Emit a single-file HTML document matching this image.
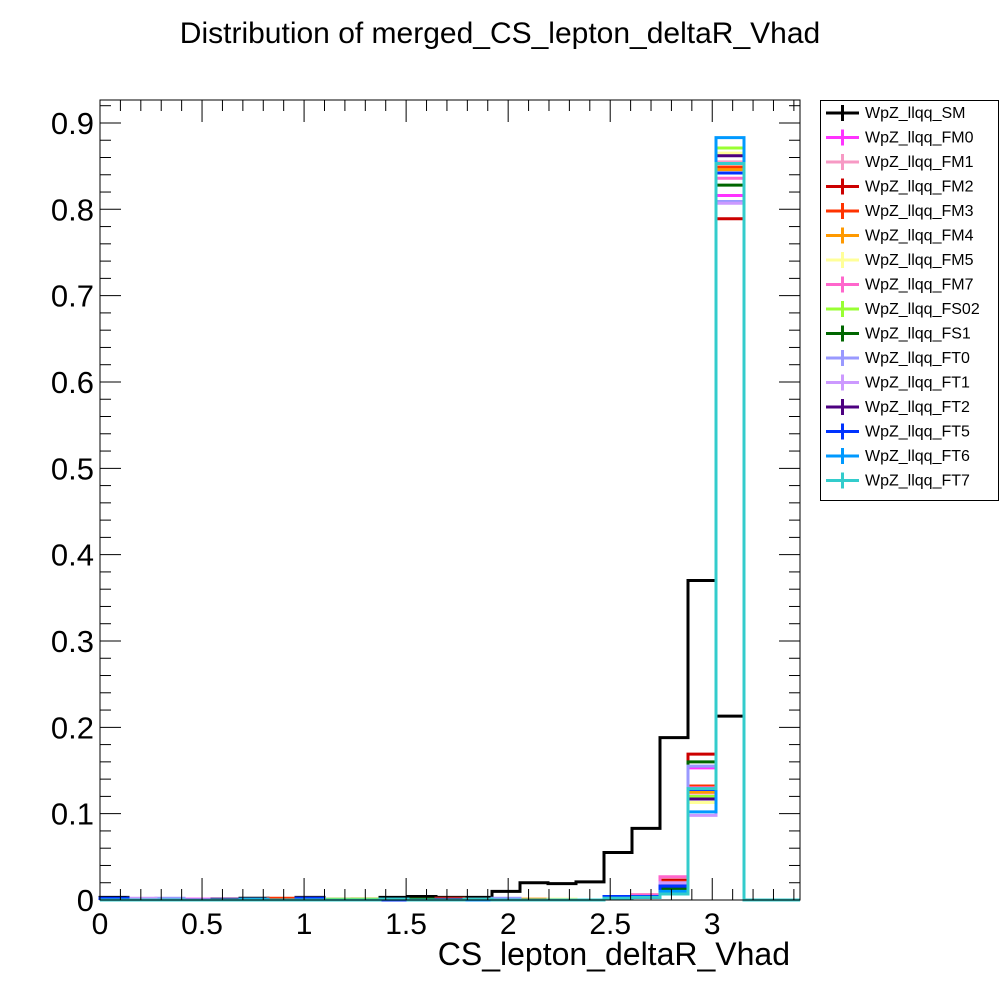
<!DOCTYPE html>
<html><head><meta charset="utf-8"><style>
body{margin:0;background:#fff;width:1000px;height:1000px;overflow:hidden;font-family:"Liberation Sans",sans-serif}
</style></head><body>
<svg id="c" width="1000" height="1000" xmlns="http://www.w3.org/2000/svg">
<rect width="1000" height="1000" fill="#fff"/>
<text x="500" y="43" font-size="30" text-anchor="middle" font-family="Liberation Sans, sans-serif">Distribution of merged_CS_lepton_deltaR_Vhad</text>
<g id="plot"></g>
<text x="790" y="965" font-size="32" text-anchor="end" font-family="Liberation Sans, sans-serif">CS_lepton_deltaR_Vhad</text>
</svg>
<script>
const xMin=0, xMax=3.43, nBins=25, yMin=0, yMax=0.9266;
const xTicks=[0,0.5,1,1.5,2,2.5,3];
const xTickLabels=["0","0.5","1","1.5","2","2.5","3"];
const yTicks=[0,0.1,0.2,0.3,0.4,0.5,0.6,0.7,0.8,0.9];
const yTickLabels=["0","0.1","0.2","0.3","0.4","0.5","0.6","0.7","0.8","0.9"];
const seriesNames=["WpZ_llqq_SM","WpZ_llqq_FM0","WpZ_llqq_FM1","WpZ_llqq_FM2","WpZ_llqq_FM3","WpZ_llqq_FM4","WpZ_llqq_FM5","WpZ_llqq_FM7","WpZ_llqq_FS02","WpZ_llqq_FS1","WpZ_llqq_FT0","WpZ_llqq_FT1","WpZ_llqq_FT2","WpZ_llqq_FT5","WpZ_llqq_FT6","WpZ_llqq_FT7"];
const seriesColors=["#000000","#ff33ff","#f799c4","#cc0000","#ff3300","#ff9900","#ffff99","#ff66cc","#99ff33","#006600","#9999ff","#cc99ff","#4d0080","#0033ff","#0099ff","#33cccc"];
const smValues=[0.003,0,0,0,0,0.002,0,0.003,0,0,0.003,0.004,0.003,0.003,0.010,0.020,0.019,0.021,0.055,0.083,0.188,0.370,0.213,0,0];
const bin19=[0.083,0.004,0.005,0.006,0.004,0.003,0.003,0.006,0.003,0.004,0.004,0.003,0.003,0.004,0.003,0.003];
const bin20=[0.188,0.020,0.022,0.023,0.021,0.018,0.015,0.027,0.012,0.013,0.018,0.020,0.016,0.016,0.010,0.007];
const bin21=[0.370,0.153,0.124,0.169,0.132,0.125,0.113,0.130,0.120,0.160,0.155,0.098,0.117,0.128,0.102,0.129];
const bin22=[0.213,0.816,0.855,0.789,0.849,0.846,0.865,0.836,0.871,0.828,0.809,0.807,0.862,0.842,0.883,0.853];
const lowValue=[0,0.001,0.001,0.001,0.002,0.001,0.001,0.001,0.001,0.001,0.002,0.002,0.001,0.002,0.001,0.001];
const L=100,R=800,T=100,B=900;
const xs=v=>L+(v-xMin)/(xMax-xMin)*(R-L);
const ys=v=>B-(v-yMin)/(yMax-yMin)*(B-T);
const NS="http://www.w3.org/2000/svg";
const g=document.getElementById('plot');
function mk(t,a,p){const e=document.createElementNS(NS,t);for(const k in a)e.setAttribute(k,a[k]);(p||g).appendChild(e);return e;}
const bw=(xMax-xMin)/nBins;
function seriesVals(i){
  if(i===0) return smValues;
  const v=[];for(let b=0;b<nBins;b++)v.push(0);
  v[(i*3)%16]=lowValue[i];v[(i*5+3)%17]=lowValue[i];
  v[18]=lowValue[i]*2;v[19]=bin19[i];v[20]=bin20[i];v[21]=bin21[i];v[22]=bin22[i];
  return v;
}
for(let i=0;i<seriesNames.length;i++){
  const v=seriesVals(i);
  let d="M"+xs(0)+","+ys(0);
  for(let b=0;b<nBins;b++){d+=" L"+xs(b*bw)+","+ys(v[b])+" L"+xs((b+1)*bw)+","+ys(v[b]);}
  d+=" L"+xs(xMax)+","+ys(0);
  const p=mk('path',{d:d,fill:'none',stroke:seriesColors[i],'stroke-width':3});
  
  
}
mk('rect',{x:L,y:T,width:R-L,height:B-T,fill:'none',stroke:'#000','stroke-width':1});
for(let v=0;v<=xMax+1e-9;v+=0.1){
  const major=Math.abs(v*2-Math.round(v*2))<1e-6;
  const len=major?22:11;const x=xs(v);
  mk('line',{x1:x,y1:B,x2:x,y2:B-len,stroke:'#000','stroke-width':1});
  mk('line',{x1:x,y1:T,x2:x,y2:T+len,stroke:'#000','stroke-width':1});
}
xTicks.forEach((v,i)=>{const t=mk('text',{x:xs(v),y:934,'font-size':30,'text-anchor':'middle'});t.textContent=xTickLabels[i];

});
for(let v=0;v<=yMax+1e-9;v+=0.02){
  const major=Math.abs(v*10-Math.round(v*10))<1e-6;
  const len=major?21:11;const y=ys(v);
  mk('line',{x1:L,y1:y,x2:L+len,y2:y,stroke:'#000','stroke-width':1});
  mk('line',{x1:R,y1:y,x2:R-len,y2:y,stroke:'#000','stroke-width':1});
}
yTicks.forEach((v,i)=>{const t=mk('text',{x:94,y:ys(v)+11,'font-size':31,'text-anchor':'end'});t.textContent=yTickLabels[i];

});
const lg=mk('g',{});


mk('rect',{x:820.5,y:100.5,width:178,height:400,fill:'#fff',stroke:'#000','stroke-width':1},lg);
seriesNames.forEach((n,i)=>{
  const y=113+i*24.5;
  const e=mk('g',{},lg);
  
  
  mk('line',{x1:826,y1:y,x2:859,y2:y,stroke:seriesColors[i],'stroke-width':3},e);
  mk('line',{x1:842.5,y1:y-8,x2:842.5,y2:y+8,stroke:seriesColors[i],'stroke-width':3},e);
  const t=mk('text',{x:865,y:y+5,'font-size':16},e);t.textContent=n;
});
</script>
</body></html>
